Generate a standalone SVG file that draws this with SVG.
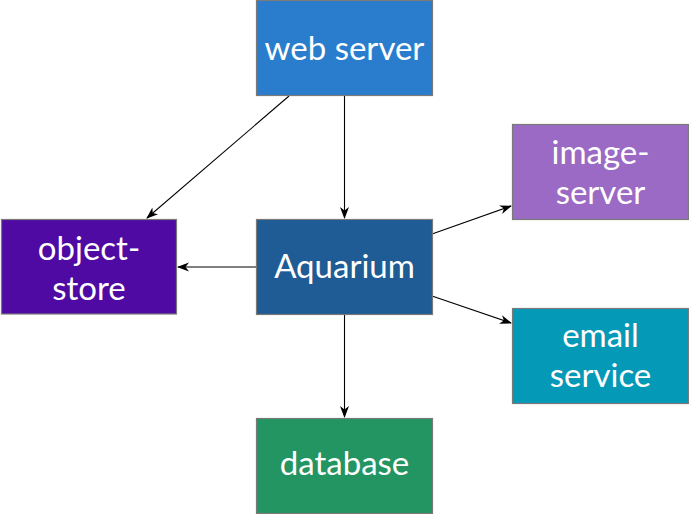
<svg xmlns="http://www.w3.org/2000/svg" width="689" height="514" viewBox="0 0 689 514">
<style>
.box{stroke:#7a7a7a;stroke-width:1.2}
.lbl{font-family:Lato,"Open Sans","DejaVu Sans",sans-serif;font-size:33px;fill:#ffffff;text-anchor:middle}
.edge{stroke:#000;stroke-width:1.1;fill:none;marker-end:url(#ah)}
</style>
<defs>
<marker id="ah" viewBox="0 0 12 10" refX="11" refY="5" markerWidth="12" markerHeight="10" markerUnits="userSpaceOnUse" orient="auto">
<path d="M0,0.5 L12,5 L0,9.5 L3.5,5 z" fill="#000"/>
</marker>
</defs>
<rect width="689" height="514" fill="#ffffff"/>
<g id="connectors">
<line class="edge" x1="289" y1="96" x2="147" y2="218"/>
<line class="edge" x1="344.5" y1="96" x2="344.5" y2="218"/>
<line class="edge" x1="256" y1="267" x2="178" y2="267"/>
<line class="edge" x1="432" y1="234" x2="511" y2="206"/>
<line class="edge" x1="432" y1="296" x2="511" y2="323"/>
<line class="edge" x1="344.5" y1="314" x2="344.5" y2="417"/>
</g>
<g id="web-server">
<rect class="box" x="256.5" y="0.5" width="176" height="95" fill="#2a7dcc"/>
<text class="lbl" x="344.5" y="60">web server</text>
</g>
<g id="object-store">
<rect class="box" x="1.5" y="219.5" width="175" height="94.5" fill="#4f0aa3"/>
<text class="lbl" x="89" y="260">object-</text>
<text class="lbl" x="89" y="300">store</text>
</g>
<g id="aquarium">
<rect class="box" x="256.5" y="219.5" width="176" height="95" fill="#1f5b94"/>
<text class="lbl" x="344.5" y="278">Aquarium</text>
</g>
<g id="image-server">
<rect class="box" x="512.5" y="124.5" width="176" height="95" fill="#9b6ac4"/>
<text class="lbl" x="600.5" y="164">image-</text>
<text class="lbl" x="600.5" y="204">server</text>
</g>
<g id="email-service">
<rect class="box" x="512.5" y="308.5" width="176" height="95" fill="#0599b8"/>
<text class="lbl" x="600.5" y="347">email</text>
<text class="lbl" x="600.5" y="387">service</text>
</g>
<g id="database">
<rect class="box" x="256.5" y="418.5" width="176" height="95" fill="#239562"/>
<text class="lbl" x="344.5" y="475">database</text>
</g>
</svg>
